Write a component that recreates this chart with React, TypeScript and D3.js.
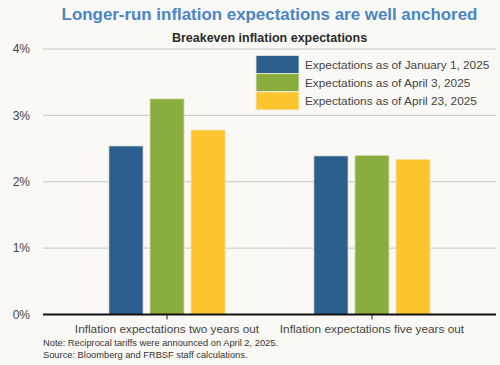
import * as d3 from 'd3'

const W = 500
const H = 365
const MARGIN = { top: 49, right: 4, bottom: 50.5, left: 43 }

const categories = ['Inflation expectations two years out', 'Inflation expectations five years out']
const seriesNames = [
  'Expectations as of January 1, 2025',
  'Expectations as of April 3, 2025',
  'Expectations as of April 23, 2025',
]
const twoYear = [2.54, 3.25, 2.78]
const fiveYear = [2.39, 2.4, 2.34]
const yTicks = [0, 1, 2, 3, 4]
const colors = ['#2c5f8e', '#8aad3f', '#fdc62f']

const FONT = 'Liberation Sans, Arial, sans-serif'

export default function App() {
  const iW = W - MARGIN.left - MARGIN.right
  const iH = H - MARGIN.top - MARGIN.bottom
  const values = [twoYear, fiveYear]

  const y = d3.scaleLinear().domain([0, 4]).range([iH, 0])
  const x0 = d3.scaleBand().domain(categories).range([0, iW]).paddingInner(0).paddingOuter(0.105)
  const x1 = d3.scaleBand().domain(seriesNames).range([0, x0.bandwidth()]).paddingInner(0.165).paddingOuter(1.08)

  return (
    <svg width={W} height={H} style={{ display: 'block', position: 'absolute', left: 0, top: 0 }}>
      <rect width={W} height={H} fill="#faf9f5" />
      <text x={269.5} y={20} textAnchor="middle" fontFamily={FONT} fontWeight="bold" fontSize={16.9} fill="#4a86c6">
        Longer-run inflation expectations are well anchored
      </text>
      <text x={269.5} y={41.5} textAnchor="middle" fontFamily={FONT} fontWeight="bold" fontSize={12.5} fill="#2a2a2a">
        Breakeven inflation expectations
      </text>

      <g transform={`translate(${MARGIN.left},${MARGIN.top})`}>
        {yTicks.map((t) => (
          <g key={t}>
            {t > 0 && <line x1={0} x2={iW} y1={y(t)} y2={y(t)} stroke="#c6c6c4" strokeWidth={1} />}
            <text x={-13} y={y(t) + 4.3} textAnchor="end" fontFamily={FONT} fontSize={12} fill="#444">
              {t}%
            </text>
          </g>
        ))}

        {categories.map((c, ci) => (
          <g key={c} transform={`translate(${x0(c)},0)`}>
            {seriesNames.map((s, si) => (
              <rect
                key={s}
                x={x1(s)}
                y={y(values[ci][si])}
                width={x1.bandwidth()}
                height={iH - y(values[ci][si])}
                fill={colors[si]}
                stroke="#efedd9"
                strokeWidth={0.8}
              />
            ))}
            <line x1={x0.bandwidth() / 2} x2={x0.bandwidth() / 2} y1={iH} y2={iH + 5} stroke="#222" strokeWidth={1} />
            <text x={x0.bandwidth() / 2} y={iH + 18.5} textAnchor="middle" fontFamily={FONT} fontSize={11.8} fill="#444">
              {c}
            </text>
          </g>
        ))}

        <line x1={0} x2={iW} y1={iH} y2={iH} stroke="#111" strokeWidth={2} />
      </g>

      <g transform="translate(256,55.5)">
        {seriesNames.map((s, i) => (
          <g key={s} transform={`translate(0,${i * 18.2})`}>
            <rect x={0} y={0} width={43} height={18} fill={colors[i]} stroke="#efedd9" strokeWidth={0.8} />
            <text x={49} y={13.3} fontFamily={FONT} fontSize={11.8} fill="#444">
              {s}
            </text>
          </g>
        ))}
      </g>

      <text x={43} y={345.5} fontFamily={FONT} fontSize={9.3} fill="#333">
        Note: Reciprocal tariffs were announced on April 2, 2025.
      </text>
      <text x={43} y={357.5} fontFamily={FONT} fontSize={9.3} fill="#333">
        Source: Bloomberg and FRBSF staff calculations.
      </text>
    </svg>
  )
}
